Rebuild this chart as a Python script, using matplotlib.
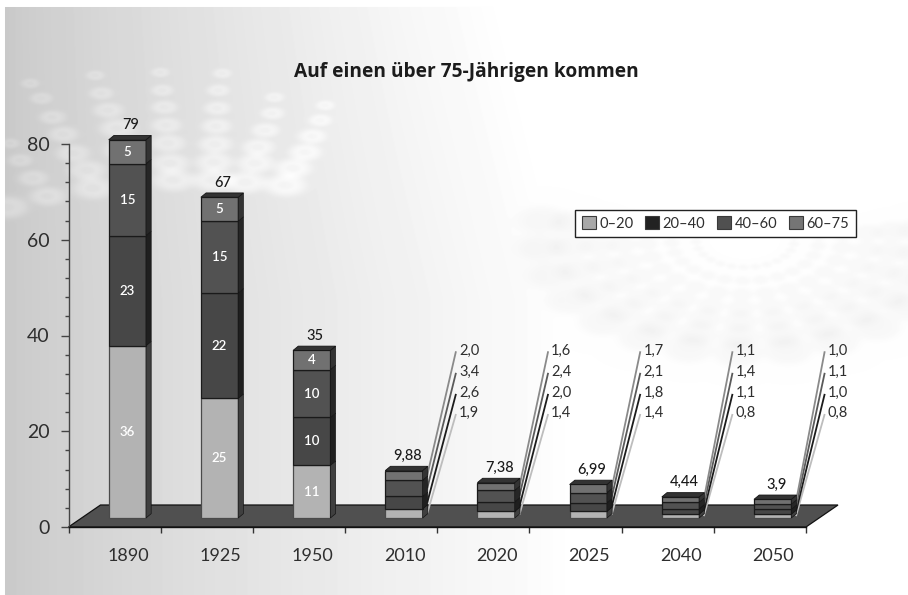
import numpy as np
import matplotlib
matplotlib.use("Agg")
import matplotlib.pyplot as plt
from matplotlib.patches import Patch, Polygon
from matplotlib.ticker import MultipleLocator

# ---------- data ----------
years = ["1890", "1925", "1950", "2010", "2020", "2025", "2040", "2050"]
age_groups = ["0–20", "20–40", "40–60", "60–75"]
age_0_20 = [36, 25, 11, 1.9, 1.4, 1.4, 0.8, 0.8]
age_20_40 = [23, 22, 10, 2.6, 2.0, 1.8, 1.1, 1.0]
age_40_60 = [15, 15, 10, 3.4, 2.4, 2.1, 1.4, 1.1]
age_60_75 = [5, 5, 4, 2.0, 1.6, 1.7, 1.1, 1.0]
totals = ["79", "67", "35", "9,88", "7,38", "6,99", "4,44", "3,9"]
title = "Auf einen über 75-Jährigen kommen"

# ---------- style ----------
W, H = 908, 595
FONT = "Lato"
TEXT = "#2e2e2e"
front_colors = ["#b3b3b3", "#474747", "#525252", "#717171"]
side_colors = ["#3f3f3f", "#1f1f1f", "#262626", "#333333"]
legend_colors = ["#a8a8a8", "#222222", "#505050", "#757575"]
leader_colors = ["#bdbdbd", "#1c1c1c", "#5a5a5a", "#8a8a8a"]
# leader-line ends and their value labels (axis units)
leader_end_x = 1.203
leader_end_y = [23.6, 27.8, 32.2, 36.7]
AX_L, AX_R, AX_B, AX_T = 68.5, 806, 527, 144
PX_X = (AX_R - AX_L) / 8
PX_Y = (AX_B - AX_T) / 80
BAR_DX = 12.75 / PX_X
BAR_W = 37.3 / PX_X
BAR_LIFT = 9 / PX_Y
DEPTH_X = 5.2 / PX_X
DEPTH_Y = 4.3 / PX_Y
FLOOR_X = 32 / PX_X
FLOOR_Y = 22 / PX_Y


def background():
    yy, xx = np.mgrid[0:H, 0:W].astype(float)
    g = 202 + 53 * np.clip((xx - 5) / 560, 0, 1) ** 0.85
    g = np.minimum(g + 6 * np.clip(1 - yy / 300, 0, 1) * np.clip(xx / 400, 0, 1), 255)

    def blob(arr, cx, cy, rx, ry, amp, ring=True):
        d = ((xx - cx) / rx) ** 2 + ((yy - cy) / ry) ** 2
        shape = np.exp(-d ** 2)
        if ring:
            shape = shape - 0.3 * np.exp(-(d / 0.14) ** 2)
        return arr + amp * shape

    left_rows = [
        [(30, 83), (41, 98), (52, 117), (63, 134), (73, 153), (87, 170), (93, 188)],
        [(95, 75), (101, 93), (108, 110), (117, 128), (125, 150)],
        [(160, 72), (162, 90), (164, 107), (166, 125), (168, 143), (170, 163), (173, 180)],
        [(222, 73), (218, 90), (217, 108), (216, 126), (215, 144), (214, 162), (213, 180)],
        [(274, 97), (272, 113), (265, 130), (258, 147), (255, 163), (245, 182)],
        [(325, 105), (320, 120), (312, 136), (305, 152), (293, 168), (285, 185)],
        [(10, 143), (20, 160), (33, 178), (47, 196), (7, 207)],
    ]
    for row in left_rows:
        for k, (cx, cy) in enumerate(row):
            s = 0.45 + 0.55 * k / max(len(row) - 1, 1)
            g = blob(g, cx, cy, 21 * s, 11 * s, 17 * (0.4 + 0.6 * s))

    # pale dotted fan on the right-hand side
    for ang in np.radians(np.arange(-100, 101, 14)):
        for t in (0.24, 0.36, 0.48, 0.6, 0.72, 0.86, 1.0):
            cx = 745 + 205 * t * np.sin(ang)
            cy = 240 + 113 * t * np.cos(ang)
            g = blob(g, cx, cy, 24 * t, 14 * t, -7 * (0.5 + 0.5 * t), ring=False)
    g = np.clip(g, 0, 255)
    g[:7, :] = 255
    g[:, :5] = 255
    return g.astype(np.uint8)


plt.rcParams["font.family"] = [FONT, "DejaVu Sans"]
fig = plt.figure(figsize=(W / 100, H / 100), dpi=100, facecolor="white")

bg = fig.add_axes([0, 0, 1, 1], zorder=0)
bg.imshow(background(), cmap="gray", vmin=0, vmax=255, aspect="auto",
          interpolation="bilinear")
bg.axis("off")

ax = fig.add_axes([AX_L / W, 1 - AX_B / H, (AX_R - AX_L) / W, (AX_B - AX_T) / H], zorder=1)
ax.patch.set_alpha(0)
ax.set_xlim(0, 8)
ax.set_ylim(0, 80)
for s in ("top", "right"):
    ax.spines[s].set_visible(False)
ax.spines["left"].set_color("#444444")
ax.spines["left"].set_linewidth(1.0)
ax.spines["bottom"].set_color("#111111")
ax.spines["bottom"].set_linewidth(1.0)

# floor
ax.add_patch(Polygon([(0, 0), (FLOOR_X, FLOOR_Y), (8 + FLOOR_X, FLOOR_Y), (8, 0)],
                     closed=True, facecolor="#505050", edgecolor="#111111",
                     linewidth=0.9, clip_on=False, zorder=1))

series = [age_0_20, age_20_40, age_40_60, age_60_75]
bottoms = np.zeros(len(years))
for j, vals in enumerate(series):
    vals = np.asarray(vals, dtype=float)
    xs = np.arange(len(years)) + 0.5 + BAR_DX
    base = bottoms + BAR_LIFT
    ax.bar(xs, vals, width=BAR_W, bottom=base, color=front_colors[j],
           edgecolor="#1a1a1a" if j else "#4a4a4a", linewidth=0.9, zorder=4, clip_on=False)
    for i, (x0, y0, v) in enumerate(zip(xs, base, vals)):
        xr = x0 + BAR_W / 2
        ax.add_patch(Polygon([(xr, y0), (xr + DEPTH_X, y0 + DEPTH_Y),
                              (xr + DEPTH_X, y0 + v + DEPTH_Y), (xr, y0 + v)],
                             closed=True, facecolor=side_colors[j], edgecolor="#151515",
                             linewidth=0.5, zorder=4, clip_on=False))
        # value inside the big bars, leader line and label for the small ones
        if i < 3:
            ax.text(x0, y0 + v / 2, f"{v:g}", color="white", ha="center", va="center",
                    fontsize=9.5, fontweight="semibold", zorder=6)
        else:
            ex, ey = i + leader_end_x, leader_end_y[j]
            ax.plot([xr + DEPTH_X * 0.9, ex], [y0 + v / 2, ey], color=leader_colors[j],
                    linewidth=1.3, clip_on=False, zorder=3, solid_capstyle="butt")
            ax.annotate(f"{v:.1f}".replace(".", ","), (ex, ey), xytext=(2.2, 0.6),
                        textcoords="offset points", fontsize=10.5, color=TEXT,
                        ha="left", va="center", annotation_clip=False, zorder=6)
    bottoms += vals

# top face and total labels
for i, (b, lab) in enumerate(zip(bottoms, totals)):
    x0 = i + 0.5 + BAR_DX
    y1 = b + BAR_LIFT
    xl, xr = x0 - BAR_W / 2, x0 + BAR_W / 2
    ax.add_patch(Polygon([(xl, y1), (xl + DEPTH_X, y1 + DEPTH_Y),
                          (xr + DEPTH_X, y1 + DEPTH_Y), (xr, y1)],
                         closed=True, facecolor="#333333", edgecolor="#151515",
                         linewidth=0.6, zorder=4, clip_on=False))
    ax.annotate(lab, (x0, y1), xytext=(2.5, 10.5), textcoords="offset points",
                fontsize=10.5, fontweight="medium", color="#1a1a1a",
                ha="center", va="center", zorder=6, annotation_clip=False)

# axes
ax.yaxis.set_major_locator(MultipleLocator(20))
ax.yaxis.set_minor_locator(MultipleLocator(4))
ax.tick_params(axis="y", which="major", length=6, width=1, color="#444444",
               labelsize=14, labelcolor=TEXT, pad=7.5)
ax.tick_params(axis="y", which="minor", length=3, width=1, color="#444444")
ax.set_xticks(np.arange(0, 9))
ax.set_xticklabels([])
ax.set_xticks(np.arange(len(years)) + 0.645, labels=years, minor=True)
ax.tick_params(axis="x", which="major", length=4.5, width=1, color="#333333")
ax.tick_params(axis="x", which="minor", length=0, labelsize=13, labelcolor=TEXT, pad=15)

# title
fig.text(466 / W, 1 - 72 / H, title, fontfamily=["Open Sans", "DejaVu Sans"], fontsize=13.8,
         fontweight="bold", color="#1c1c1c", ha="center", va="center")

# legend
handles = [Patch(facecolor=c, edgecolor="#3a3a3a", linewidth=0.8, label=l)
           for c, l in zip(legend_colors, age_groups)]
leg = fig.legend(handles=handles, ncol=4, loc="center",
                 bbox_to_anchor=(715.5 / W, 1 - 223.5 / H), fontsize=10.5,
                 frameon=True, fancybox=False, framealpha=1, edgecolor="#222222",
                 handlelength=0.95, handleheight=0.95, handletextpad=0.25,
                 columnspacing=0.8, borderpad=0.45, labelcolor=TEXT)
leg.get_frame().set_linewidth(1.0)
leg.set_zorder(5)

fig.savefig("out.png", dpi=100)
